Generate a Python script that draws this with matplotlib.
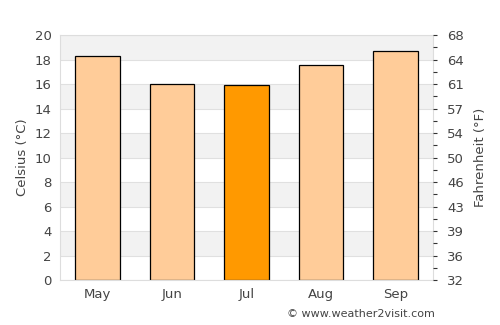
import matplotlib
matplotlib.use("Agg")
import matplotlib.pyplot as plt
import numpy as np

months = ["May", "Jun", "Jul", "Aug", "Sep"]
celsius = [18.3, 16.0, 15.9, 17.6, 18.7]
highlight = "Jul"
c_ticks = list(range(0, 21, 2))
f_labels = ["32", "36", "39", "43", "46", "50", "54", "57", "61", "64", "68"]

text_col = "#444444"
plt.rcParams["font.family"] = "DejaVu Sans"

fig = plt.figure(figsize=(5, 3.25), dpi=100)
ax = fig.add_axes([0.12, 0.138, 0.746, 0.754])

x = np.arange(len(months))
colors = ["#ff9900" if m == highlight else "#ffcc99" for m in months]

# striped background
for lo in range(2, 20, 4):
    ax.axhspan(lo, lo + 2, color="#f2f2f2", zorder=0, lw=0)
for c in c_ticks:
    ax.axhline(c, color="#e0e0e0", lw=0.8, zorder=0.5)

ax.bar(x, celsius, width=0.6, color=colors, edgecolor="black", linewidth=0.9, zorder=2)

ax.set_xlim(-0.5, 4.5)
ax.set_ylim(0, 20)
ax.set_xticks(x)
ax.set_xticklabels(months)
ax.set_yticks(c_ticks)
ax.tick_params(axis="both", length=0, colors=text_col, labelsize=9.5, pad=6)
ax.set_ylabel("Celsius (°C)", color=text_col, fontsize=9.5)
for s in ax.spines.values():
    s.set_color("#dddddd")

ax2 = ax.twinx()
ax2.set_ylim(0, 20)
ax2.set_yticks(c_ticks)
ax2.set_yticklabels(f_labels)
ax2.set_yticks(np.arange(1, 20, 2), minor=True)
ax2.tick_params(axis="y", which="both", length=3, width=0.8, color="#333333",
                colors=text_col, labelsize=9.5, pad=7)
ax2.tick_params(axis="y", which="both", color="#333333")
ax2.set_ylabel("Fahrenheit (°F)", color=text_col, fontsize=9.5, labelpad=7)
for s in ax2.spines.values():
    s.set_visible(False)

fig.text(0.87, 0.035, "© www.weather2visit.com", ha="right", va="center",
         fontsize=8, color=text_col)

fig.savefig("out.png", dpi=100)
